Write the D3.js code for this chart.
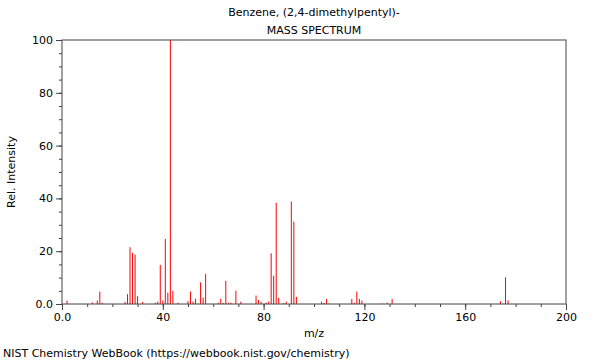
<!DOCTYPE html>
<html>
<head>
<meta charset="utf-8">
<script src="https://cdn.jsdelivr.net/npm/d3@7"></script>
<style>
  body { margin: 0; background: #fff; }
  svg { display: block; font-family: "DejaVu Sans", sans-serif; }
</style>
</head>
<body>
<svg id="chart" width="600" height="360"></svg>
<script>
// peaks
var mz = [2, 12, 14, 15, 16, 25, 26, 27, 28, 29, 30, 32, 37, 38, 39, 40, 41, 42, 43, 44, 46,
          50, 51, 52, 53, 55, 56, 57, 62, 63, 64, 65, 66, 67, 69, 71,
          77, 78, 79, 81, 82, 83, 84, 85, 86, 88, 89, 91, 92, 93,
          103, 104, 105, 106, 115, 116, 117, 118, 119, 127, 129, 131,
          174, 176, 177];
var intensity = [1.3, 0.6, 1.3, 4.7, 0.5, 0.8, 3.7, 21.5, 19.4, 18.7, 3.0, 0.8, 0.5, 0.9, 14.8, 1.3, 24.6, 4.3, 100, 5.0, 0.5,
                 1.1, 4.7, 0.9, 2.0, 8.2, 2.4, 11.4, 0.5, 2.0, 0.4, 8.8, 0.5, 0.5, 5.0, 0.9,
                 3.2, 1.5, 0.8, 0.5, 0.9, 19.2, 10.7, 38.3, 2.3, 0.4, 0.9, 38.8, 31.2, 2.7,
                 0.9, 0.4, 1.9, 0.2, 1.9, 0.5, 4.7, 1.9, 1.3, 0.2, 0.5, 1.9,
                 1.0, 10.1, 1.4];
var xTicks = [0, 40, 80, 120, 160, 200];
var yTicks = [0, 20, 40, 60, 80, 100];
var titleLines = ["Benzene, (2,4-dimethylpentyl)-", "MASS SPECTRUM"];

var margin = {top: 40, right: 34, bottom: 56, left: 62},
    width = 600 - margin.left - margin.right,
    height = 360 - margin.top - margin.bottom;

var svg = d3.select("#chart");
var g = svg.append("g")
    .attr("transform", "translate(" + margin.left + "," + margin.top + ")");

var x = d3.scaleLinear().domain([0, 200]).range([0, width]);
var y = d3.scaleLinear().domain([0, 100]).range([height, 0]);

var fmt = function(d) { return d === 0 ? "0.0" : d; };

// minor ticks
g.append("g")
    .attr("transform", "translate(0," + height + ")")
    .call(d3.axisBottom(x).tickValues(d3.range(0, 201, 10)).tickSize(3).tickFormat(""))
    .call(function(a) { a.select(".domain").remove(); });
g.append("g")
    .call(d3.axisLeft(y).tickValues(d3.range(0, 101, 5)).tickSize(3).tickFormat(""))
    .call(function(a) { a.select(".domain").remove(); });

// major ticks
g.append("g")
    .attr("transform", "translate(0," + height + ")")
    .call(d3.axisBottom(x).tickValues(xTicks).tickSize(6).tickFormat(fmt))
    .call(function(a) { a.select(".domain").remove(); })
    .selectAll("text").style("font-size", "11px").style("font-family", "DejaVu Sans");
g.append("g")
    .call(d3.axisLeft(y).tickValues(yTicks).tickSize(6).tickFormat(fmt))
    .call(function(a) { a.select(".domain").remove(); })
    .selectAll("text").style("font-size", "11px").style("font-family", "DejaVu Sans");

g.selectAll(".tick line").attr("stroke", "#444");

// peaks
g.selectAll("line.peak")
    .data(mz)
    .enter()
    .append("line")
    .attr("class", "peak")
    .attr("x1", function(d) { return x(d); })
    .attr("x2", function(d) { return x(d); })
    .attr("y1", y(0))
    .attr("y2", function(d, i) { return y(intensity[i]); })
    .attr("stroke", "#ff0000")
    .attr("stroke-width", 1);

// frame
g.append("rect")
    .attr("width", width)
    .attr("height", height)
    .attr("fill", "none")
    .attr("stroke", "#444")
    .attr("stroke-width", 1);

// titles
svg.selectAll("text.title")
    .data(titleLines)
    .enter()
    .append("text")
    .attr("class", "title")
    .attr("x", margin.left + width / 2)
    .attr("y", function(d, i) { return 16 + i * 18; })
    .attr("text-anchor", "middle")
    .style("font-size", "11px")
    .text(function(d) { return d; });

svg.append("text")
    .attr("x", margin.left + width / 2)
    .attr("y", 337)
    .attr("text-anchor", "middle")
    .style("font-size", "11px")
    .text("m/z");

svg.append("text")
    .attr("transform", "rotate(-90)")
    .attr("x", -(margin.top + height / 2))
    .attr("y", 15)
    .attr("text-anchor", "middle")
    .style("font-size", "11px")
    .text("Rel. Intensity");

svg.append("text")
    .attr("x", 3)
    .attr("y", 357)
    .style("font-size", "11px")
    .text("NIST Chemistry WebBook (https://webbook.nist.gov/chemistry)");
</script>
</body>
</html>
